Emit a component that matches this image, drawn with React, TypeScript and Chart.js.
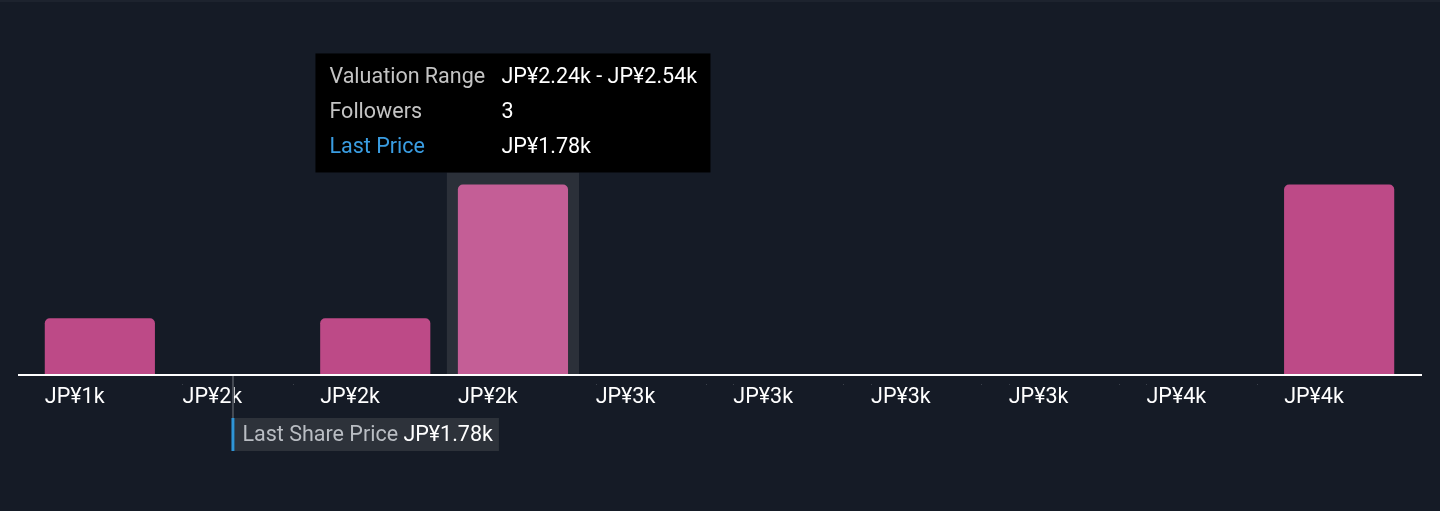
import React, { useEffect, useRef } from "react";
import { Chart, registerables } from "chart.js";

Chart.register(...registerables);

// ---- data ----
const binLabels = ["JP¥1k", "JP¥2k", "JP¥2k", "JP¥2k", "JP¥3k", "JP¥3k", "JP¥3k", "JP¥3k", "JP¥4k", "JP¥4k"];
const followers = [1, 0, 1, 3, 0, 0, 0, 0, 0, 3];
const binStarts = [1.34, 1.64, 1.94, 2.24, 2.54, 2.84, 3.14, 3.44, 3.74, 4.04]; // in thousands of JP¥
const binWidth = 0.3;
const lastPrice = 1.78; // thousands of JP¥
const hoveredIndex = 3;

const FONT = "Roboto, 'Noto Sans', sans-serif";
const FS = 21.5;
const BG = "#151b26";
const BAR = "#bd4a87";
const BAR_HOVER = "#c45e96";

const fmtK = (v: number) => `JP¥${v.toFixed(2)}k`;

const overlayPlugin = {
  id: "overlay",
  beforeDatasetsDraw(chart: any) {
    const { ctx, chartArea } = chart;
    const el = chart.getDatasetMeta(0).data[hoveredIndex];
    if (!el) return;
    ctx.save();
    ctx.fillStyle = "#2b3039";
    const left = el.x - el.width / 2 - 11;
    const top = el.y - 12;
    ctx.fillRect(left, top, el.width + 22, chartArea.bottom - top);
    ctx.restore();
  },
  afterDatasetsDraw(chart: any) {
    const { ctx, chartArea } = chart;
    ctx.save();
    // baseline axis
    ctx.fillStyle = "#ffffff";
    ctx.fillRect(chartArea.left - 13, chartArea.bottom, chartArea.right - chartArea.left + 27, 2);
    // faint marks for empty bins
    ctx.fillStyle = "#3a404a";
    const meta = chart.getDatasetMeta(0);
    meta.data.forEach((el: any, i: number) => {
      if (followers[i] === 0) {
        ctx.fillRect(Math.round(el.x - el.width / 2), chartArea.bottom + 10, 1, 1);
        ctx.fillRect(Math.round(el.x + el.width / 2), chartArea.bottom + 10, 1, 1);
      }
    });
    ctx.restore();
  },
  afterDraw(chart: any) {
    const { ctx, chartArea, scales } = chart;
    const xs = scales.x;
    ctx.save();

    // ---- last share price marker ----
    let idx = binStarts.findIndex((s) => lastPrice >= s && lastPrice < s + binWidth);
    if (idx < 0) idx = 0;
    const catW = (xs.right - xs.left) / binLabels.length;
    const mx = xs.getPixelForValue(idx) + ((lastPrice - binStarts[idx]) / binWidth - 0.5) * catW;
    const boxTop = 418;
    const boxH = 33;
    ctx.fillStyle = "#464b54";
    ctx.fillRect(mx - 1, chartArea.bottom + 2, 2, boxTop - chartArea.bottom - 2);
    ctx.font = `${FS}px ${FONT}`;
    ctx.textBaseline = "middle";
    const lbl = "Last Share Price ";
    const val = fmtK(lastPrice);
    const lw = ctx.measureText(lbl).width;
    const vw = ctx.measureText(val).width;
    ctx.fillStyle = "#2d323a";
    ctx.fillRect(mx + 1.5, boxTop, 8 + lw + vw + 6, boxH);
    ctx.fillStyle = "#2f95d6";
    ctx.fillRect(mx - 1.5, boxTop, 3, boxH);
    ctx.textAlign = "left";
    ctx.fillStyle = "#b9bdc3";
    ctx.fillText(lbl, mx + 9.5, boxTop + boxH / 2 + 1);
    ctx.fillStyle = "#ffffff";
    ctx.fillText(val, mx + 9.5 + lw, boxTop + boxH / 2 + 1);

    // ---- tooltip ----
    const el = chart.getDatasetMeta(0).data[hoveredIndex];
    if (el) {
      const rows = [
        ["Valuation Range", `${fmtK(binStarts[hoveredIndex])} - ${fmtK(binStarts[hoveredIndex] + binWidth)}`],
        ["Followers", String(followers[hoveredIndex])],
        ["Last Price", fmtK(lastPrice)],
      ];
      const tw = 395;
      const th = 119;
      const tl = el.x - tw / 2;
      const tt = el.y - 12 - th;
      ctx.fillStyle = "#000000";
      ctx.fillRect(tl, tt, tw, th);
      ctx.font = `${FS}px ${FONT}`;
      ctx.textBaseline = "middle";
      rows.forEach((r, i) => {
        const y = tt + 24 + i * 35;
        ctx.fillStyle = i === 2 ? "#3a9de2" : "#c4c4c4";
        ctx.fillText(r[0], tl + 14, y);
        ctx.fillStyle = "#ffffff";
        ctx.fillText(r[1], tl + 186, y);
      });
    }
    ctx.restore();
  },
};

export default function App() {
  const ref = useRef<HTMLCanvasElement | null>(null);

  useEffect(() => {
    document.body.style.margin = "0";
    if (!ref.current) return;
    const chart = new Chart(ref.current, {
      type: "bar",
      data: {
        labels: binLabels,
        datasets: [
          {
            data: followers,
            backgroundColor: followers.map((_, i) => (i === hoveredIndex ? BAR_HOVER : BAR)),
            borderRadius: 5,
            borderSkipped: "start",
            categoryPercentage: 1,
            barPercentage: 0.8,
          },
        ],
      },
      options: {
        responsive: false,
        animation: false,
        devicePixelRatio: 1,
        layout: { padding: { left: 31, right: 32, top: 151, bottom: 0 } },
        plugins: { legend: { display: false }, tooltip: { enabled: false } },
        events: [],
        scales: {
          y: { display: false, min: 0.168, max: 3.5 },
          x: {
            grid: { display: false, drawTicks: false },
            border: { display: false },
            ticks: {
              color: "#ffffff",
              font: { family: FONT, size: FS },
              align: "start",
              labelOffset: -55,
              padding: 11,
              autoSkip: false,
              maxRotation: 0,
            },
            afterFit: (s: any) => {
              s.height = 137;
            },
          },
        },
      },
      plugins: [overlayPlugin],
    });
    return () => chart.destroy();
  }, []);

  return (
    <div
      style={{
        position: "absolute",
        left: 0,
        top: 0,
        width: 1440,
        height: 511,
        background: BG,
        boxShadow: "inset 0 2px 0 #1d232e",
      }}
    >
      <canvas ref={ref} width={1440} height={511} style={{ display: "block" }} />
    </div>
  );
}
